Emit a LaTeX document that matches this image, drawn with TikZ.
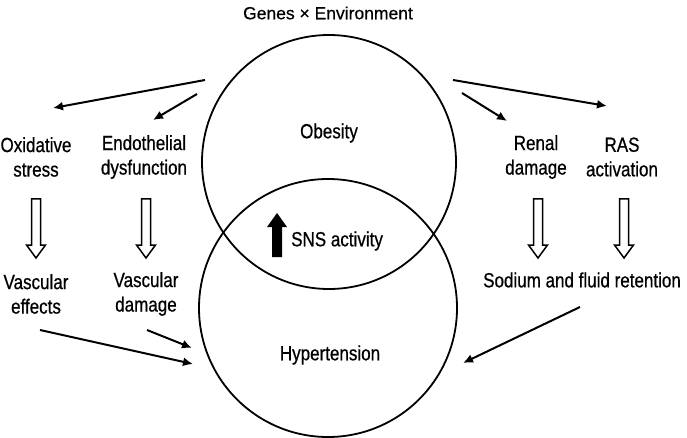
\documentclass[tikz,border=0pt]{standalone}
\usepackage{fontspec}
\setmainfont{Liberation Sans}[FakeBold=0.5]
\newfontfamily\condfont{Liberation Sans}[FakeStretch=0.83,FakeBold=0.6]
\newfontfamily\titlefont{Liberation Sans}[FakeBold=0.6]
\usetikzlibrary{arrows.meta}
\newcommand\myhollow[3]{% name, x, ytop ; arrow 59pt long pointing down
  \coordinate (#1) at (#2,#3);
  \draw[hollowline] (#2-4.5,#3) -- ++(0,46) -- ++(-5,0) -- ++(9.5,13) -- ++(9.5,-13) -- ++(-5,0) -- ++(0,-46) -- cycle;}
\begin{document}
\begin{tikzpicture}[x=1pt,y=-1pt,
  lbl/.style={font=\condfont\fontsize{20.5}{24.5}\selectfont, align=center, inner sep=0pt},
  ring/.style={circle, draw, line width=1.8pt, inner sep=0pt},
  conn/.style={line width=2pt, -{Latex[length=10pt,width=9pt]}},
  hollowline/.style={draw, line width=1.5pt, line join=miter}]
\useasboundingbox (0,0) rectangle (687,438);
% circles
\node[ring, minimum size=254pt] (top) at (329,162) {};
\node[ring, minimum size=258pt] (bot) at (328,308) {};
% texts
\node[font=\titlefont\fontsize{17.5}{20}\selectfont, inner sep=0pt] (title) at (328,13) {Genes × Environment};
\node[lbl] (obesity) at (329,133) {Obesity};
\node[lbl, anchor=west] (sns) at (291,241) {SNS activity};
\fill (272,257) -- ++(0,-30) -- ++(-5,0) -- ++(10,-14) -- ++(10,14) -- ++(-5,0) -- ++(0,30) -- cycle;
\node[lbl] (hyp) at (330,355) {Hypertension};
\node[lbl] (ox) at (36,157) {Oxidative\\stress};
\node[lbl] (endo) at (144,157) {Endothelial\\dysfunction};
\node[lbl] (renal) at (536,157) {Renal\\damage};
\node[lbl] (ras) at (622,157) {RAS\\activation};
\node[lbl] (veff) at (36,294) {Vascular\\effects};
\node[lbl] (vdam) at (146,294) {Vascular\\damage};
\node[lbl, anchor=west] (sod) at (483,280) {Sodium and fluid retention};
% hollow arrows
\myhollow{h1}{36}{199}
\myhollow{h2}{146}{199}
\myhollow{h3}{538}{199}
\myhollow{h4}{624}{199}
% connector end points
\coordinate (a1s) at (205,80);  \coordinate (a1e) at (53,108);
\coordinate (a2s) at (197,94);  \coordinate (a2e) at (153,120);
\coordinate (a3s) at (453,80);  \coordinate (a3e) at (607,106);
\coordinate (a4s) at (462,93);  \coordinate (a4e) at (507,121);
\coordinate (b1s) at (40,330);  \coordinate (b1e) at (193,364);
\coordinate (b2s) at (147,330); \coordinate (b2e) at (192,348);
\coordinate (b3s) at (580,307); \coordinate (b3e) at (463,363);
\draw[conn] (a1s) -- (a1e);
\draw[conn] (a2s) -- (a2e);
\draw[conn] (a3s) -- (a3e);
\draw[conn] (a4s) -- (a4e);
\draw[conn] (b1s) -- (b1e);
\draw[conn] (b2s) -- (b2e);
\draw[conn] (b3s) -- (b3e);
\end{tikzpicture}
\end{document}
